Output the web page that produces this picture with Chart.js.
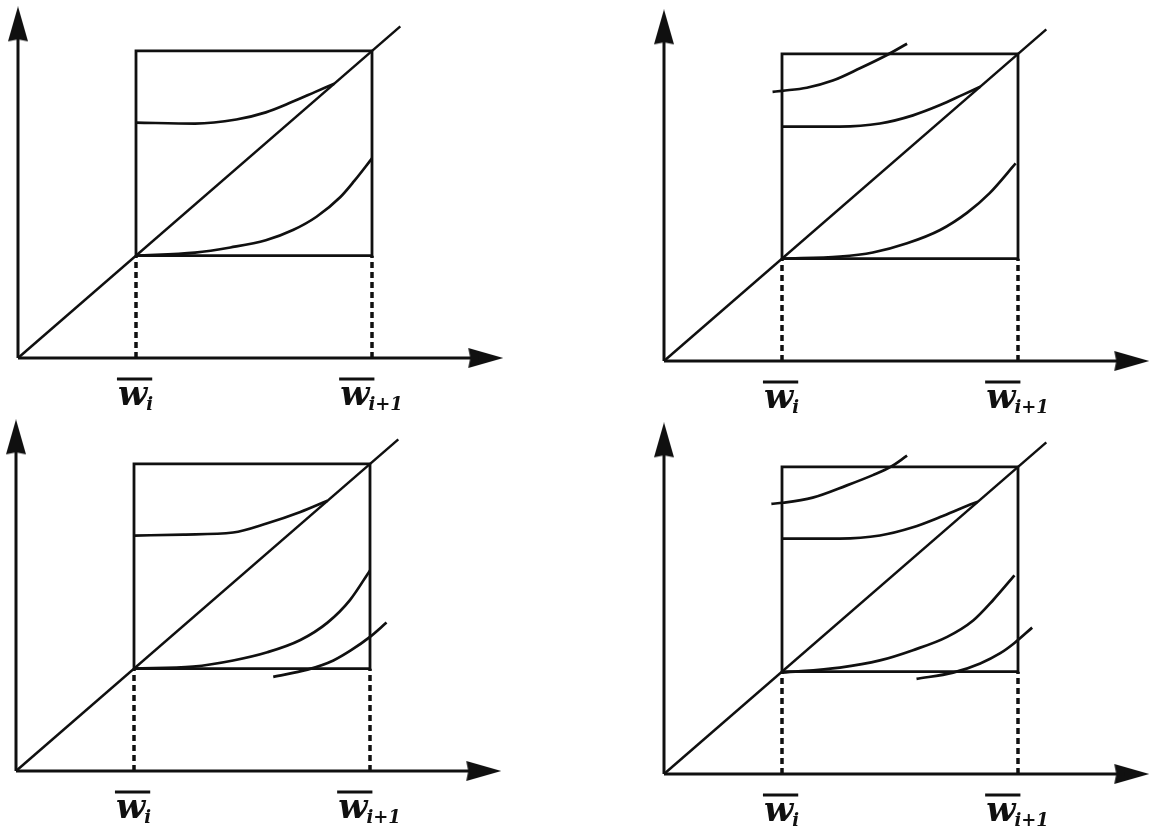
<!DOCTYPE html>
<html>
<head>
<meta charset="utf-8">
<script src="https://cdn.jsdelivr.net/npm/chart.js@4.4.1/dist/chart.umd.min.js"></script>
<style>
  html, body { margin: 0; padding: 0; background: #fff; }
  body { width: 1152px; height: 834px; overflow: hidden; position: relative; }
  canvas { position: absolute; }
</style>
</head>
<body>
<canvas id="p1" width="562" height="438"></canvas>
<canvas id="p2" width="562" height="438"></canvas>
<canvas id="p3" width="562" height="438"></canvas>
<canvas id="p4" width="562" height="438"></canvas>
<script>
// Tick labels (w bar, with subscript)
const TICK_VALUES = [1, 3];
const TICK_SUBS = ["i", "i+1"];

// Common frame: box, diagonal, axes
const BOX_X = [1, 3, 3, 1, 1];
const BOX_Y = [1, 1, 3, 3, 1];
const DIAG_X = [0, 3.24];
const DIAG_Y = [0, 3.24];
const XAXIS_X = [0, 3.9];
const XAXIS_Y = [0, 0];
const YAXIS_X = [0, 0];
const YAXIS_Y = [0, 3.2];
const XARROW = { x: 3.96, y: 0 };
const YARROW = { x: 0, y: 3.26 };

// Panel 1 (top left)
const P1_UPPER_X = [1.0, 1.5, 1.85, 2.1, 2.32, 2.52, 2.68];
const P1_UPPER_Y = [2.3, 2.29, 2.33, 2.4, 2.5, 2.6, 2.68];
const P1_LOWER_X = [1.0, 1.5, 1.8, 2.1, 2.33, 2.53, 2.73, 2.85, 3.0];
const P1_LOWER_Y = [1.0, 1.03, 1.08, 1.15, 1.25, 1.38, 1.57, 1.73, 1.95];

// Panel 2 (top right)
const P2_TOP_X = [0.92, 1.0, 1.21, 1.43, 1.66, 1.89, 2.06];
const P2_TOP_Y = [2.63, 2.64, 2.67, 2.74, 2.86, 2.99, 3.1];
const P2_UPPER_X = [1.0, 1.49, 1.83, 2.11, 2.34, 2.53, 2.68];
const P2_UPPER_Y = [2.29, 2.29, 2.32, 2.4, 2.5, 2.6, 2.68];
const P2_LOWER_X = [1.0, 1.49, 1.77, 2.06, 2.34, 2.57, 2.76, 2.98];
const P2_LOWER_Y = [1.0, 1.02, 1.06, 1.15, 1.28, 1.45, 1.64, 1.93];

// Panel 3 (bottom left)
const P3_UPPER_X = [1.0, 1.42, 1.84, 2.13, 2.41, 2.64];
const P3_UPPER_Y = [2.3, 2.31, 2.33, 2.42, 2.53, 2.64];
const P3_LOWER_X = [1.0, 1.5, 1.84, 2.13, 2.41, 2.64, 2.83, 3.0];
const P3_LOWER_Y = [1.0, 1.02, 1.08, 1.16, 1.28, 1.45, 1.67, 1.96];
const P3_BOTTOM_X = [2.18, 2.47, 2.69, 2.84, 3.0, 3.14];
const P3_BOTTOM_Y = [0.92, 0.99, 1.08, 1.18, 1.31, 1.45];

// Panel 4 (bottom right)
const P4_TOP_X = [0.91, 1.01, 1.26, 1.55, 1.77, 1.92, 2.06];
const P4_TOP_Y = [2.64, 2.65, 2.7, 2.82, 2.92, 3.0, 3.11];
const P4_UPPER_X = [1.0, 1.49, 1.83, 2.11, 2.34, 2.57, 2.66];
const P4_UPPER_Y = [2.3, 2.3, 2.33, 2.41, 2.51, 2.62, 2.66];
const P4_LOWER_X = [1.0, 1.49, 1.83, 2.11, 2.4, 2.62, 2.79, 2.97];
const P4_LOWER_Y = [0.99, 1.04, 1.11, 1.21, 1.34, 1.5, 1.7, 1.94];
const P4_BOTTOM_X = [2.14, 2.45, 2.68, 2.85, 2.97, 3.12];
const P4_BOTTOM_Y = [0.93, 0.99, 1.08, 1.18, 1.28, 1.43];

// Page position of each panel's origin
const PANEL_ORIGINS = [[18, 358], [664, 361], [16, 771], [664, 774]];
const PAD = { left: 30, right: 60, top: 30, bottom: 60 };
const PLOT_H = 348;

const INK = "#101010";
const SERIF = "'DejaVu Serif', serif";

function pts(xs, ys) {
    const out = [];
    for (let i = 0; i < xs.length; i++) out.push({ x: xs[i], y: ys[i] });
    return out;
}

// narrow arrow head used as point style
function makeArrowHead() {
    const c = document.createElement("canvas");
    c.width = 20;
    c.height = 36;
    const g = c.getContext("2d");
    g.fillStyle = INK;
    g.beginPath();
    g.moveTo(10, 0);
    g.lineTo(20, 35);
    g.lineTo(10, 33);
    g.lineTo(0, 35);
    g.closePath();
    g.fill();
    return c;
}
const ARROW_HEAD = makeArrowHead();

function line(data, width, extra) {
    return Object.assign({
        data: data,
        showLine: true,
        borderColor: INK,
        backgroundColor: INK,
        borderWidth: width,
        pointRadius: 0,
        fill: false,
        clip: false
    }, extra || {});
}

function curve(xs, ys) {
    return line(pts(xs, ys), 2.7, { cubicInterpolationMode: "monotone" });
}

function frameDatasets() {
    return [
        line(pts(XAXIS_X, XAXIS_Y), 3),
        line(pts(YAXIS_X, YAXIS_Y), 3),
        line([XARROW], 0, { showLine: false, pointRadius: 10, pointStyle: ARROW_HEAD, pointRotation: 90 }),
        line([YARROW], 0, { showLine: false, pointRadius: 10, pointStyle: ARROW_HEAD, pointRotation: 0 }),
        line(pts(BOX_X, BOX_Y), 2.8),
        line(pts(DIAG_X, DIAG_Y), 2.5),
        line(pts([TICK_VALUES[0], TICK_VALUES[0]], [0, 1]), 3.5, { borderDash: [6, 4] }),
        line(pts([TICK_VALUES[1], TICK_VALUES[1]], [0, 1]), 3.5, { borderDash: [6, 4] })
    ];
}

// draws the w-bar tick labels under the x axis
const wLabels = {
    id: "wLabels",
    afterDatasetsDraw(chart) {
        const ctx = chart.ctx;
        const xs = chart.scales.x;
        const y0 = chart.scales.y.getPixelForValue(0);
        const bigFont = "italic bold 34px " + SERIF;
        const subFont = "italic bold 18px " + SERIF;
        ctx.save();
        ctx.fillStyle = INK;
        ctx.strokeStyle = INK;
        for (let i = 0; i < TICK_VALUES.length; i++) {
            const px = xs.getPixelForValue(TICK_VALUES[i]);
            ctx.font = bigFont;
            const ww = ctx.measureText("w").width;
            ctx.font = subFont;
            const sw = ctx.measureText(TICK_SUBS[i]).width;
            const start = px - (ww + sw) / 2;
            ctx.font = bigFont;
            ctx.textBaseline = "alphabetic";
            ctx.fillText("w", start, y0 + 47);
            ctx.font = subFont;
            ctx.fillText(TICK_SUBS[i], start + ww - 1, y0 + 52);
            ctx.lineWidth = 3;
            ctx.beginPath();
            ctx.moveTo(start - 1, y0 + 21);
            ctx.lineTo(start + ww + 5, y0 + 21);
            ctx.stroke();
        }
        ctx.restore();
    }
};

function createPanel(id, index, curves) {
    const canvas = document.getElementById(id);
    const o = PANEL_ORIGINS[index];
    canvas.style.left = (o[0] - PAD.left) + "px";
    canvas.style.top = (o[1] - PAD.top - PLOT_H) + "px";
    return new Chart(canvas, {
        type: "scatter",
        data: { datasets: frameDatasets().concat(curves) },
        options: {
            responsive: false,
            animation: false,
            devicePixelRatio: 1,
            layout: { padding: PAD },
            scales: {
                x: { type: "linear", min: 0, max: 4.0, display: false },
                y: { type: "linear", min: 0, max: 3.4, display: false }
            },
            plugins: {
                legend: { display: false },
                tooltip: { enabled: false }
            }
        },
        plugins: [wLabels]
    });
}

createPanel("p1", 0, [
    curve(P1_UPPER_X, P1_UPPER_Y),
    curve(P1_LOWER_X, P1_LOWER_Y)
]);
createPanel("p2", 1, [
    curve(P2_TOP_X, P2_TOP_Y),
    curve(P2_UPPER_X, P2_UPPER_Y),
    curve(P2_LOWER_X, P2_LOWER_Y)
]);
createPanel("p3", 2, [
    curve(P3_UPPER_X, P3_UPPER_Y),
    curve(P3_LOWER_X, P3_LOWER_Y),
    curve(P3_BOTTOM_X, P3_BOTTOM_Y)
]);
createPanel("p4", 3, [
    curve(P4_TOP_X, P4_TOP_Y),
    curve(P4_UPPER_X, P4_UPPER_Y),
    curve(P4_LOWER_X, P4_LOWER_Y),
    curve(P4_BOTTOM_X, P4_BOTTOM_Y)
]);
</script>
</body>
</html>
